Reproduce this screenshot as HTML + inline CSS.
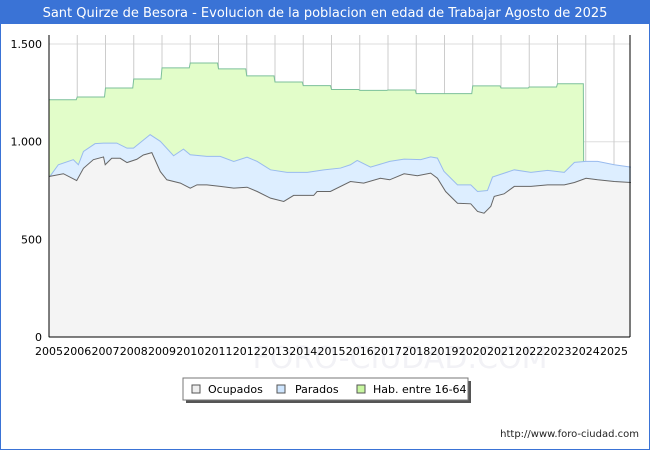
<!DOCTYPE html>
<html><head><meta charset="utf-8"><style>
body{margin:0;background:#fff;font-family:"DejaVu Sans","Liberation Sans",sans-serif}
#wrap{position:relative;width:650px;height:450px;overflow:hidden}
</style></head><body>
<div id="wrap">
<svg id="c" width="650" height="450" xmlns="http://www.w3.org/2000/svg">
<rect x="0.5" y="0.5" width="649" height="449" fill="#fff" stroke="#3a73d6"/>
<rect x="0" y="0" width="650" height="24" fill="#3a73d6"/>
<text x="325" y="17" text-anchor="middle" font-size="13" fill="#fff">Sant Quirze de Besora - Evolucion de la poblacion en edad de Trabajar Agosto de 2025</text>
<text x="400" y="368" text-anchor="middle" font-size="30" fill="#f2f2f6">FORO-CIUDAD.COM</text>
<g id="grid"></g><g id="areas"></g><g id="axes"></g>
<g>
<rect x="186" y="381" width="285" height="22" fill="#555"/>
<rect x="183" y="378" width="285" height="22" fill="#fff" stroke="#777"/>
<rect x="192" y="385" width="8" height="8" fill="#eee" stroke="#555"/>
<text x="208" y="393" font-size="11">Ocupados</text>
<rect x="277" y="385" width="8" height="8" fill="#cfe6ff" stroke="#555"/>
<text x="295" y="393" font-size="11">Parados</text>
<rect x="357" y="385" width="8" height="8" fill="#c8f7a0" stroke="#555"/>
<text x="373" y="393" font-size="11">Hab. entre 16-64</text>
</g>
<text x="639" y="437" text-anchor="end" font-size="10" fill="#222">http://www.foro-ciudad.com</text>
</svg></div>
<script>
const yTicks=[0,500,1000,1500];
const yTickLabels=["0","500","1.000","1.500"];
const xYears=[2005,2006,2007,2008,2009,2010,2011,2012,2013,2014,2015,2016,2017,2018,2019,2020,2021,2022,2023,2024,2025];
const habYears=[2005,2006,2007,2008,2009,2010,2011,2012,2013,2014,2015,2016,2017,2018,2019,2020,2021,2022,2023];
const habValues=[1215,1229,1275,1321,1378,1403,1373,1337,1306,1287,1267,1263,1265,1246,1246,1286,1275,1280,1297];
const habEnd=2023.95;
const totYears=[2005,2005.03,2005.33,2005.86,2006.04,2006.22,2006.63,2006.93,2007.4,2007.76,2007.99,2008.58,2008.94,2009.41,2009.76,2010.0,2010.59,2011.06,2011.54,2012.01,2012.37,2012.84,2013.43,2014.14,2014.73,2015.32,2015.67,2015.91,2016.38,2017.06,2017.57,2018.16,2018.51,2018.75,2018.98,2019.46,2019.93,2020.17,2020.52,2020.70,2021.47,2022.06,2022.65,2023.24,2023.6,2024.01,2024.42,2025.01,2025.6];
const totValues=[822,822,882,908,882,950,990,993,993,967,967,1036,1002,928,962,933,925,925,899,921,899,856,843,843,856,865,882,904,870,899,911,908,922,916,848,779,779,745,750,819,856,843,853,843,894,899,899,882,870];
const ocuYears=[2005,2005.51,2005.98,2006.22,2006.57,2006.93,2006.99,2007.22,2007.52,2007.76,2008.11,2008.34,2008.64,2008.94,2009.17,2009.65,2010.0,2010.24,2010.59,2011.06,2011.54,2012.01,2012.37,2012.84,2013.31,2013.66,2014.37,2014.49,2014.96,2015.67,2016.14,2016.73,2017.06,2017.57,2018.04,2018.51,2018.75,2019.04,2019.46,2019.93,2020.17,2020.4,2020.64,2020.76,2021.11,2021.47,2022.06,2022.65,2023.24,2023.6,2024.01,2024.42,2025.01,2025.6];
const ocuValues=[822,836,801,864,908,922,882,915,915,893,910,932,944,847,805,788,762,779,779,771,762,767,745,711,694,725,725,745,745,796,788,813,805,836,826,839,813,745,685,682,643,634,669,720,733,771,771,779,779,791,813,805,796,791];
const X0=49,X1=630,Y0=337,Y1=35;
const x=y=>X0+(y-2005)*28.25;
const y=v=>Y0-v*0.1953;
const NS="http://www.w3.org/2000/svg";
function mk(p,t,a){const e=document.createElementNS(NS,t);for(const k in a)e.setAttribute(k,a[k]);p.appendChild(e);return e;}
const grid=document.getElementById('grid'),areas=document.getElementById('areas'),axes=document.getElementById('axes');
mk(grid,'rect',{x:X0,y:Y1,width:X1-X0,height:Y0-Y1,fill:'#fff'});
yTicks.forEach((t,i)=>{
 const l=mk(grid,'line',{x1:X0,x2:X1,y1:y(t),y2:y(t),stroke:'#ddd'});
 
 
 const tx=mk(axes,'text',{x:42,y:y(t)+4,'text-anchor':'end','font-size':11});
 tx.textContent=yTickLabels[i];
 
 
});
xYears.forEach(yr=>{
 const l=mk(grid,'line',{x1:x(yr),x2:x(yr),y1:Y1,y2:Y0,stroke:'#ccc'});
 
 
 const tx=mk(axes,'text',{x:x(yr),y:355,'text-anchor':'middle','font-size':11});
 tx.textContent=String(yr);
 
 
});
// hab step path
let hp=[];
habYears.forEach((yr,i)=>{const nx=i<habYears.length-1?habYears[i+1]:habEnd;hp.push([x(yr),y(habValues[i])],[x(nx)-1,y(habValues[i])]);});
const habD='M'+x(2005)+','+Y0+' '+hp.map(p=>'L'+p[0]+','+p[1]).join(' ')+' L'+x(habEnd)+','+Y0+'Z';
const ha=mk(areas,'path',{d:habD,fill:'#e2fdc9',stroke:'#7cc09a','stroke-width':1});


function area(ys,vs,fill,stroke,name){
 const pts=ys.map((yr,i)=>x(yr)+','+y(vs[i]));
 const d='M'+x(ys[0])+','+Y0+' L'+pts.join(' L')+' L'+x(ys[ys.length-1])+','+Y0+'Z';
 const a=mk(areas,'path',{d:d,fill:fill,stroke:'none'});
 
 
 const l=mk(areas,'polyline',{points:pts.join(' '),fill:'none',stroke:stroke,'stroke-width':1});
 
 
}
area(totYears,totValues,'#ddeeff','#99bbee','parados');
area(ocuYears,ocuValues,'#f4f4f4','#666','ocupados');
mk(axes,'line',{x1:X0,x2:X0,y1:Y1,y2:Y0,stroke:'#000'});
mk(axes,'line',{x1:X1,x2:X1,y1:Y1,y2:Y0,stroke:'#000'});
mk(axes,'line',{x1:X0,x2:X1,y1:Y0,y2:Y0,stroke:'#000'});
</script>
</body></html>
